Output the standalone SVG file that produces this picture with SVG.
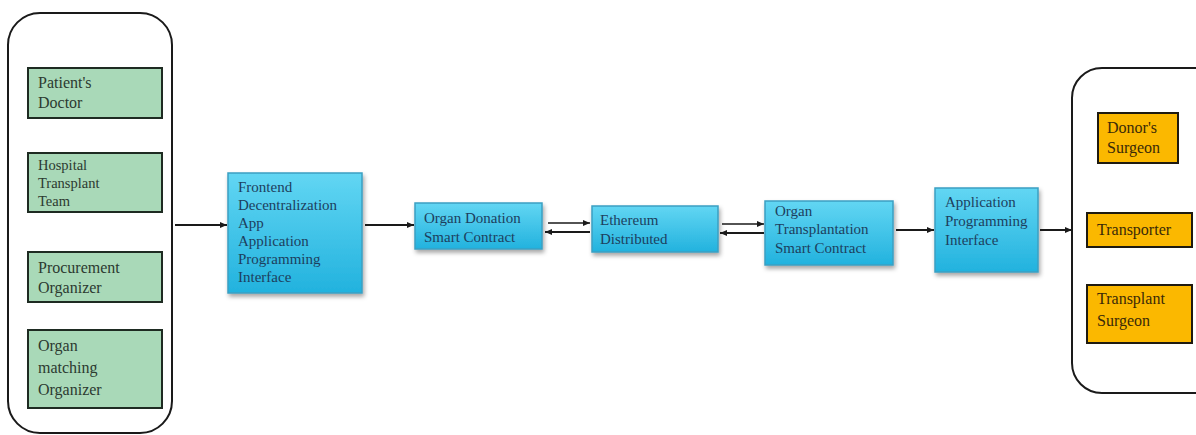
<svg xmlns="http://www.w3.org/2000/svg" width="1196" height="435" viewBox="0 0 1196 435">
<defs>
<style>
.cont{fill:#fff;stroke:#1a1a1a;stroke-width:2}
.green{fill:#a9d9b8;stroke:#1e2b22;stroke-width:2}
.orange{fill:#fbb800;stroke:#1e1a10;stroke-width:2}
.blue{fill:url(#bg);stroke:#3b9fc2;stroke-width:1.5;filter:url(#sh)}
text{font-family:"Liberation Serif","Times New Roman",serif}
.tg{fill:#2c3a30;font-size:16px}
.tgs{fill:#2c3a30;font-size:14.5px}
.tb{fill:#1d3f5e;font-size:15px}
.to{fill:#3a2a08;font-size:16px}
.ln{stroke:#1a1a1a;stroke-width:2;fill:none}
.ln1{stroke:#1a1a1a;stroke-width:1.5;fill:none}
</style>
<linearGradient id="bg" x1="0" y1="0" x2="0" y2="1">
<stop offset="0" stop-color="#62d6f3"/>
<stop offset="1" stop-color="#22b2de"/>
</linearGradient>
<filter id="sh" x="-20%" y="-20%" width="140%" height="150%">
<feDropShadow dx="1.5" dy="3" stdDeviation="2" flood-color="#000" flood-opacity="0.35"/>
</filter>
<marker id="ah" markerWidth="8" markerHeight="8" refX="7" refY="4" orient="auto" markerUnits="userSpaceOnUse">
<path d="M0,1 L7,4 L0,7 Z" fill="#1a1a1a"/>
</marker>
</defs>

<g id="left-group">
<rect class="cont" x="8" y="13" width="164" height="420" rx="32"/>
</g>
<g id="patients-doctor">
<rect class="green" x="28" y="68" width="134" height="50"/>
<text class="tg" x="38" y="88">Patient's</text>
<text class="tg" x="38" y="108">Doctor</text>
</g>
<g id="hospital-transplant-team">
<rect class="green" x="28" y="153" width="134" height="59"/>
<text class="tgs" x="38" y="170">Hospital</text>
<text class="tgs" x="38" y="188">Transplant</text>
<text class="tgs" x="38" y="206">Team</text>
</g>
<g id="procurement-organizer">
<rect class="green" x="28" y="252" width="134" height="50"/>
<text class="tg" x="38" y="273">Procurement</text>
<text class="tg" x="38" y="293">Organizer</text>
</g>
<g id="organ-matching-organizer">
<rect class="green" x="28" y="330" width="134" height="78"/>
<text class="tg" x="38" y="351">Organ</text>
<text class="tg" x="38" y="373">matching</text>
<text class="tg" x="38" y="395">Organizer</text>
</g>

<g id="frontend">
<rect class="blue" x="228" y="173" width="134" height="120"/>
<text class="tb" x="238" y="192">Frontend</text>
<text class="tb" x="238" y="210">Decentralization</text>
<text class="tb" x="238" y="228">App</text>
<text class="tb" x="238" y="246">Application</text>
<text class="tb" x="238" y="264">Programming</text>
<text class="tb" x="238" y="282">Interface</text>
</g>
<g id="organ-donation">
<rect class="blue" x="415" y="203" width="127" height="46"/>
<text class="tb" x="424" y="223">Organ Donation</text>
<text class="tb" x="424" y="242">Smart Contract</text>
</g>
<g id="ethereum">
<rect class="blue" x="592" y="206" width="126" height="46"/>
<text class="tb" x="600" y="225">Ethereum</text>
<text class="tb" x="600" y="244">Distributed</text>
</g>
<g id="organ-transplantation">
<rect class="blue" x="765" y="201" width="128" height="64"/>
<text class="tb" x="775" y="216">Organ</text>
<text class="tb" x="775" y="234">Transplantation</text>
<text class="tb" x="775" y="253">Smart Contract</text>
</g>
<g id="api">
<rect class="blue" x="935" y="188" width="103" height="84"/>
<text class="tb" x="945" y="207">Application</text>
<text class="tb" x="945" y="226">Programming</text>
<text class="tb" x="945" y="245">Interface</text>
</g>

<g id="right-group">
<rect class="cont" x="1072" y="68" width="160" height="325" rx="30"/>
</g>
<g id="donors-surgeon">
<rect class="orange" x="1098" y="113" width="80" height="50"/>
<text class="to" x="1107" y="133">Donor's</text>
<text class="to" x="1107" y="153">Surgeon</text>
</g>
<g id="transporter">
<rect class="orange" x="1087" y="213" width="105" height="34"/>
<text class="to" x="1097" y="235">Transporter</text>
</g>
<g id="transplant-surgeon">
<rect class="orange" x="1087" y="285" width="105" height="58"/>
<text class="to" x="1097" y="304">Transplant</text>
<text class="to" x="1097" y="326">Surgeon</text>
</g>

<g id="connectors">
<line class="ln" x1="175" y1="225" x2="227" y2="225" marker-end="url(#ah)"/>
<line class="ln" x1="365" y1="225" x2="414" y2="225" marker-end="url(#ah)"/>
<line class="ln1" x1="548" y1="223" x2="590" y2="223" marker-end="url(#ah)"/>
<line class="ln" x1="590" y1="232" x2="545" y2="232" marker-end="url(#ah)"/>
<line class="ln1" x1="722" y1="224" x2="764" y2="224" marker-end="url(#ah)"/>
<line class="ln" x1="764" y1="233" x2="720" y2="233" marker-end="url(#ah)"/>
<line class="ln" x1="896" y1="230" x2="934" y2="230" marker-end="url(#ah)"/>
<line class="ln" x1="1040" y1="230" x2="1072" y2="230" marker-end="url(#ah)"/>
</g>
</svg>
